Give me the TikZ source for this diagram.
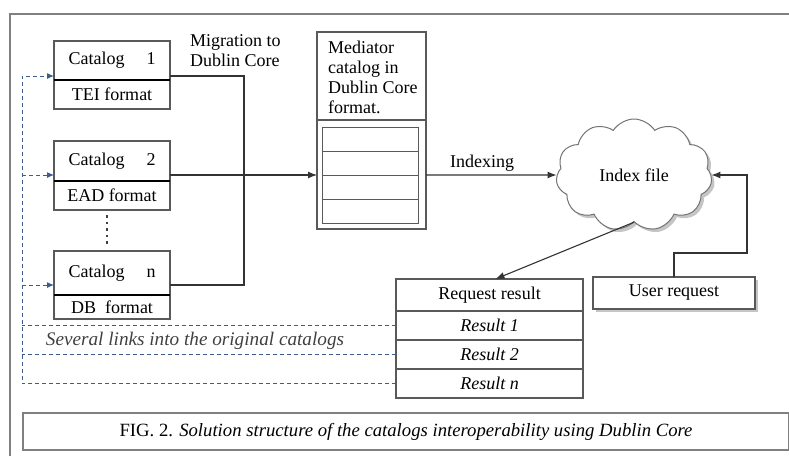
\documentclass[tikz,border=0pt]{standalone}
\usepackage{fontspec}
\setmainfont{Liberation Serif}
\usetikzlibrary{arrows.meta,shapes.symbols,shadows,positioning}

\definecolor{linkblue}{RGB}{62,92,140}
\tikzset{
  catbox/.style={draw=black!65, line width=1.1pt, minimum width=116pt, inner sep=0pt, outer sep=0pt},
  fmtbox/.style={catbox, minimum height=29pt},
  medrow/.style={draw=black!65, line width=1pt, minimum width=96pt, minimum height=24pt, inner sep=0pt, outer sep=0pt},
  resrow/.style={draw=black!65, line width=1.1pt, minimum width=187pt, minimum height=29pt, inner sep=0pt, outer sep=0pt},
  conn/.style={black!80, line width=1.1pt},
  arr/.style={conn, -{Latex[length=9pt,width=7pt]}},
  link/.style={linkblue, line width=1pt, dash pattern=on 4pt off 3pt},
  linkarr/.style={link, -{Latex[length=7pt,width=6pt]}},
  shade/.style={drop shadow={shadow xshift=3pt, shadow yshift=-3pt, fill=black!45}},
}

\begin{document}
\begin{tikzpicture}[x=1pt,y=-1pt,font=\fontsize{18}{20}\selectfont]
\useasboundingbox (0,0) rectangle (789,456);
% frame
\draw[black!50, line width=1.5pt] (10,456) |- (789,14);

% source catalogs
\node[catbox, minimum height=39pt] (cat1) at (112,60.5) {Catalog\hspace{22pt}1};
\node[fmtbox, below=0pt of cat1] (tei) {TEI format};
\node[catbox, minimum height=40pt] (cat2) at (112,161) {Catalog\hspace{22pt}2};
\node[fmtbox, below=0pt of cat2] (ead) {EAD format};
\node[catbox, minimum height=44pt] (catn) at (112,273) {Catalog\hspace{22pt}n};
\node[fmtbox, minimum height=24pt, below=0pt of catn] (db) {DB\ \ format};
\draw[black, line width=1.3pt] (cat1.south west) -- (cat1.south east);
\draw[black, line width=1.3pt] (cat2.south west) -- (cat2.south east);
\draw[black, line width=1.3pt] (catn.south west) -- (catn.south east);
\draw[black!75, line width=1.8pt, dash pattern=on 2.5pt off 4pt, shorten <=5pt, shorten >=6pt]
  ([xshift=-5pt]ead.south) -- ([xshift=-5pt]catn.north);

% mediator catalog
\node[catbox, minimum width=109pt, minimum height=197pt] (med) at (371.5,130.5) {};
\draw[black!65, line width=1.1pt] ([yshift=-88pt]med.north west) -- ([yshift=-88pt]med.north east);
\node[anchor=north west, align=left, inner sep=0pt] (medtxt) at ([xshift=11pt,yshift=-9pt]med.north west)
  {Mediator\\catalog in\\Dublin Core\\format.};
\foreach \i in {1,...,4}
  \node[medrow] (m\i) at (370,115+24*\i) {};

% migration
\coordinate (c1) at ([yshift=4pt]cat1.south east);
\coordinate (c2) at ([yshift=6pt]cat2.south east);
\coordinate (cn) at ([yshift=10pt]catn.south east);
\coordinate (mig) at (244,175);
\draw[conn] (c1) -| (mig) |- (cn);
\draw[arr] (c2) -- (c2 -| med.west);
\node[anchor=north west, align=left, inner sep=0pt] (migtxt) at (190,34) {Migration to\\Dublin Core};

% index file
\node[cloud, cloud puffs=11, cloud puff arc=115, aspect=1.45, draw=black!55, fill=white, line width=1pt,
  shade, minimum width=156pt, minimum height=112pt, inner sep=0pt] (idx) at (634,175) {Index file};
\draw[arr] (m3.north -| med.east) -- (idx.west) node[above, pos=0.43, inner sep=3pt, text=black] (idxlbl) {Indexing};

% user request
\node[catbox, minimum width=162pt, minimum height=32pt, fill=white, shade] (usr) at (674,293) {User request};
\coordinate (up) at (747,253);
\draw[arr] (usr.north) |- (up) |- (idx.east);

% request result
\node[resrow, minimum height=32pt] (rhead) at (489.5,295) {Request result};
\node[resrow, below=0pt of rhead] (r1) {\itshape Result 1};
\node[resrow, below=0pt of r1] (r2) {\itshape Result 2};
\node[resrow, below=0pt of r2] (rn) {\itshape Result n};
\draw[arr] (idx.south) -- ([xshift=6pt]rhead.north);

% links back to the catalogs
\coordinate (lk) at (22,76);
\draw[linkarr] (rn.west) -| (lk) -- (c1 -| cat1.west);
\draw[link] (r1.west) -- (r1.west -| lk);
\draw[link] (r2.west) -- (r2.west -| lk);
\draw[linkarr] (c2 -| lk) -- (c2 -| cat2.west);
\draw[linkarr] (cn -| lk) -- (cn -| catn.west);
\node[font=\fontsize{19.2}{21}\selectfont\itshape, text=black!75] (note) at (195,341) {Several links into the original catalogs};

% caption
\node[draw=black!50, line width=1.3pt, minimum width=766pt, minimum height=37pt,
  font=\fontsize{18.7}{20}\selectfont] (cap) at (406,431.5)
  {FIG. 2. \textit{Solution structure of the catalogs interoperability using Dublin Core}};
\end{tikzpicture}
\end{document}
